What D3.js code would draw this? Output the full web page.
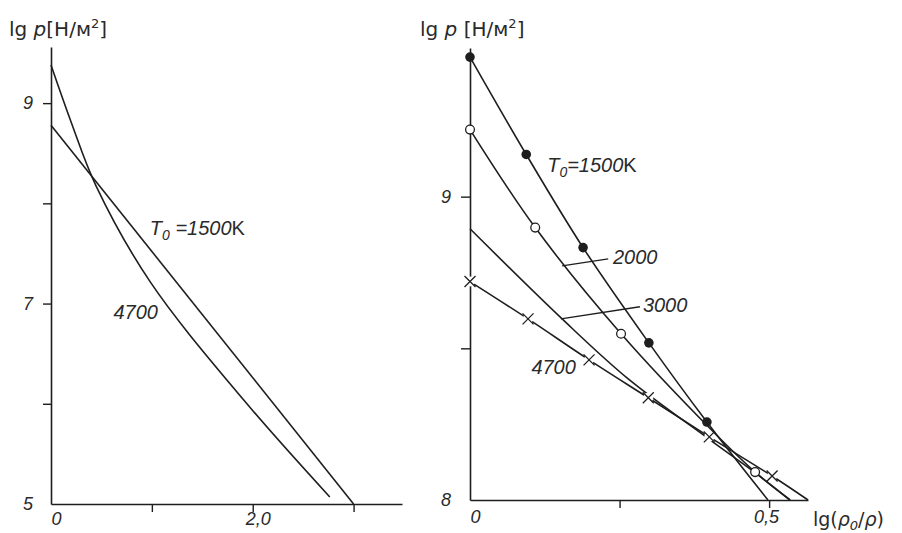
<!DOCTYPE html>
<html lang="ru">
<head>
<meta charset="UTF-8">
<title>lg p - lg(rho0/rho)</title>
<style>
  body { margin: 0; background: #fff; }
  svg text { fill: #2a2a2a; }
  .num { font-family: "Liberation Sans", Arial, sans-serif; font-style: italic; }
  .ttl { font-family: "DejaVu Sans", sans-serif; }
</style>
</head>
<body>
<script src="https://cdn.jsdelivr.net/npm/d3@7/dist/d3.min.js"></script>
<script>
// ---- left panel data: lg p vs lg(rho0/rho), wide range
var leftXTicks = [0, 1, 2, 3];
var leftXLabels = ["0", "", "2,0", ""];
var leftYTicks = [5, 6, 7, 8, 9];
var leftYLabels = ["5", "", "7", "", "9"];
var left1500 = [[0, 8.78], [3.0, 5.0]];
var left4700 = [[0, 9.38], [0.2, 8.81], [0.444, 8.18], [0.984, 7.216], [1.909, 6.04], [2.764, 5.07]];

// ---- right panel data: zoomed, with computed points
var rightXTicks = [0, 0.25, 0.5];
var rightXLabels = ["0", "", "0,5"];
var rightYTicks = [8, 8.5, 9];
var rightYLabels = ["8", "", "9"];
var r1500 = [[0, 9.46], [0.094, 9.139], [0.189, 8.832], [0.299, 8.518], [0.396, 8.257], [0.498, 8.0]];
var r2000 = [[0, 9.221], [0.109, 8.898], [0.2525, 8.548], [0.40, 8.238], [0.4766, 8.092], [0.535, 8.0]];
var r3000 = [[0, 8.894], [0.154, 8.597], [0.264, 8.40], [0.40, 8.20], [0.4766, 8.09], [0.535, 8.0]];
var r4700 = [[0, 8.72], [0.097, 8.597], [0.199, 8.462], [0.298, 8.337], [0.40, 8.208], [0.505, 8.079], [0.565, 8.0]];
// marker points (which vertices carry a symbol)
var dots1500 = r1500.slice(0, 5);
var circ2000 = r2000.slice(0, 3).concat([r2000[4]]);
var cross4700 = r4700.slice(0, 6);

var W = 902, H = 533;
var svg = d3.select("body").append("svg").attr("width", W).attr("height", H);

var ink = "#1e1e1e";

function lineGen(x, y) {
  return d3.line().x(function(d){ return x(d[0]); }).y(function(d){ return y(d[1]); }).curve(d3.curveCatmullRom.alpha(0.5));
}

function styleAxis(g) {
  g.selectAll("path.domain").attr("stroke", ink).attr("stroke-width", 1.6);
  g.selectAll(".tick line").attr("stroke", ink).attr("stroke-width", 1.4);
  g.selectAll(".tick text").attr("class", "num").attr("font-size", 18);
}

// ================= LEFT PANEL =================
var lx = d3.scaleLinear().domain([0, 3.48]).range([51, 402]);
var ly = d3.scaleLinear().domain([5, 9.56]).range([504, 47]);

var gl = svg.append("g");
gl.append("g").attr("transform", "translate(0," + ly(5) + ")")
  .call(d3.axisBottom(lx).tickValues(leftXTicks).tickSize(8).tickSizeOuter(0).tickPadding(0)
    .tickFormat(function(d, i){ return leftXLabels[i]; }))
  .call(styleAxis)
  .call(function(g){
    g.selectAll(".tick").filter(function(d){ return d === 0; }).select("line").remove();
    g.selectAll(".tick text").attr("dx", 5);
  });
gl.append("g").attr("transform", "translate(" + lx(0) + ",0)")
  .call(d3.axisLeft(ly).tickValues(leftYTicks).tickSize(8).tickSizeOuter(0).tickPadding(10)
    .tickFormat(function(d, i){ return leftYLabels[i]; }))
  .call(styleAxis)
  .call(function(g){
    g.selectAll(".tick").filter(function(d){ return d === 5; }).select("line").remove();
  });

var lline = lineGen(lx, ly);
gl.append("path").datum(left1500).attr("d", lline).attr("fill", "none").attr("stroke", ink).attr("stroke-width", 1.6);
gl.append("path").datum(left4700).attr("d", lline).attr("fill", "none").attr("stroke", ink).attr("stroke-width", 1.6);

// labels
var t1 = gl.append("text").attr("class", "num").attr("font-size", 20)
  .attr("x", lx(0.98)).attr("y", ly(7.75)).attr("dy", "0.35em");
t1.append("tspan").text("T");
t1.append("tspan").attr("font-size", 14).attr("dy", 5).text("0");
t1.append("tspan").attr("dy", -5).text(" =1500");
t1.append("tspan").attr("font-style", "normal").text("K");

gl.append("text").attr("class", "num").attr("font-size", 20).attr("text-anchor", "end")
  .attr("x", lx(1.06)).attr("y", ly(6.92)).attr("dy", "0.35em").text("4700");

var yt1 = gl.append("text").attr("class", "ttl").attr("font-size", 20).attr("x", 9).attr("y", 36);
yt1.append("tspan").text("lg ");
yt1.append("tspan").attr("font-style", "italic").text("p");
yt1.append("tspan").text("[Н/м");
yt1.append("tspan").attr("font-size", 13).attr("dy", -8).text("2");
yt1.append("tspan").attr("dy", 8).text("]");

// ================= RIGHT PANEL =================
var rx = d3.scaleLinear().domain([0, 0.565]).range([470, 808]);
var ry = d3.scaleLinear().domain([8, 9.49]).range([500, 48]);

var gr = svg.append("g");
gr.append("g").attr("transform", "translate(0," + ry(8) + ")")
  .call(d3.axisBottom(rx).tickValues(rightXTicks).tickSize(8).tickSizeOuter(0).tickPadding(2)
    .tickFormat(function(d, i){ return rightXLabels[i]; }))
  .call(styleAxis)
  .call(function(g){
    g.selectAll(".tick").filter(function(d){ return d === 0; }).select("line").remove();
    g.selectAll(".tick text").attr("dx", function(d){ return d === 0 ? 5 : -3; });
  });
gr.append("g").attr("transform", "translate(" + rx(0) + ",0)")
  .call(d3.axisLeft(ry).tickValues(rightYTicks).tickSize(9).tickSizeOuter(0).tickPadding(10)
    .tickFormat(function(d, i){ return rightYLabels[i]; }))
  .call(styleAxis)
  .call(function(g){
    g.selectAll(".tick").filter(function(d){ return d === 8; }).select("line").remove();
  });

var rline = lineGen(rx, ry);
[r1500, r2000, r3000, r4700].forEach(function(s){
  gr.append("path").datum(s).attr("d", rline).attr("fill", "none").attr("stroke", ink).attr("stroke-width", 1.6);
});

// leader lines for 2000 and 3000
var leaders = [
  { from: [0.154, 8.772], to: [0.231, 8.795] },
  { from: [0.152, 8.597], to: [0.284, 8.637] }
];
gr.selectAll(".leader").data(leaders).enter().append("line").attr("class", "leader")
  .attr("x1", function(d){ return rx(d.from[0]); }).attr("y1", function(d){ return ry(d.from[1]); })
  .attr("x2", function(d){ return rx(d.to[0]); }).attr("y2", function(d){ return ry(d.to[1]); })
  .attr("stroke", ink).attr("stroke-width", 1.3);

// markers
gr.selectAll(".dot").data(dots1500).enter().append("circle").attr("class", "dot")
  .attr("cx", function(d){ return rx(d[0]); }).attr("cy", function(d){ return ry(d[1]); })
  .attr("r", 4.8).attr("fill", ink);
gr.selectAll(".ocirc").data(circ2000).enter().append("circle").attr("class", "ocirc")
  .attr("cx", function(d){ return rx(d[0]); }).attr("cy", function(d){ return ry(d[1]); })
  .attr("r", 4.4).attr("fill", "#fff").attr("stroke", ink).attr("stroke-width", 1.3);
var cr = gr.selectAll(".cross").data(cross4700).enter().append("g").attr("class", "cross")
  .attr("transform", function(d){ return "translate(" + rx(d[0]) + "," + ry(d[1]) + ")"; });
cr.append("circle").attr("r", 5).attr("fill", "#fff");
cr.append("path").attr("d", "M-5.5,-5.5L5.5,5.5M-5.5,5.5L5.5,-5.5").attr("stroke", ink).attr("stroke-width", 1.3);

// curve labels
var t2 = gr.append("text").attr("class", "num").attr("font-size", 20)
  .attr("x", rx(0.129)).attr("y", ry(9.104)).attr("dy", "0.35em");
t2.append("tspan").text("T");
t2.append("tspan").attr("font-size", 14).attr("dy", 5).text("0");
t2.append("tspan").attr("dy", -5).text("=1500");
t2.append("tspan").attr("font-style", "normal").text("K");

var curveLabels = [
  { text: "2000", at: [0.239, 8.80], anchor: "start" },
  { text: "3000", at: [0.289, 8.643], anchor: "start" },
  { text: "4700", at: [0.177, 8.438], anchor: "end" }
];
gr.selectAll(".clab").data(curveLabels).enter().append("text").attr("class", "num")
  .attr("font-size", 20).attr("text-anchor", function(d){ return d.anchor; })
  .attr("x", function(d){ return rx(d.at[0]); }).attr("y", function(d){ return ry(d.at[1]); })
  .attr("dy", "0.35em").text(function(d){ return d.text; });

var yt2 = gr.append("text").attr("class", "ttl").attr("font-size", 20).attr("x", 420).attr("y", 36);
yt2.append("tspan").text("lg ");
yt2.append("tspan").attr("font-style", "italic").text("p");
yt2.append("tspan").text(" [Н/м");
yt2.append("tspan").attr("font-size", 13).attr("dy", -8).text("2");
yt2.append("tspan").attr("dy", 8).text("]");

var xt = gr.append("text").attr("class", "ttl").attr("font-size", 19).attr("x", 813).attr("y", 526);
xt.append("tspan").text("lg(");
xt.append("tspan").attr("font-style", "italic").text("ρ");
xt.append("tspan").attr("font-size", 13).attr("dy", 4).attr("font-style", "italic").text("0");
xt.append("tspan").attr("dy", -4).text("/");
xt.append("tspan").attr("font-style", "italic").text("ρ");
xt.append("tspan").text(")");
</script>
</body>
</html>
